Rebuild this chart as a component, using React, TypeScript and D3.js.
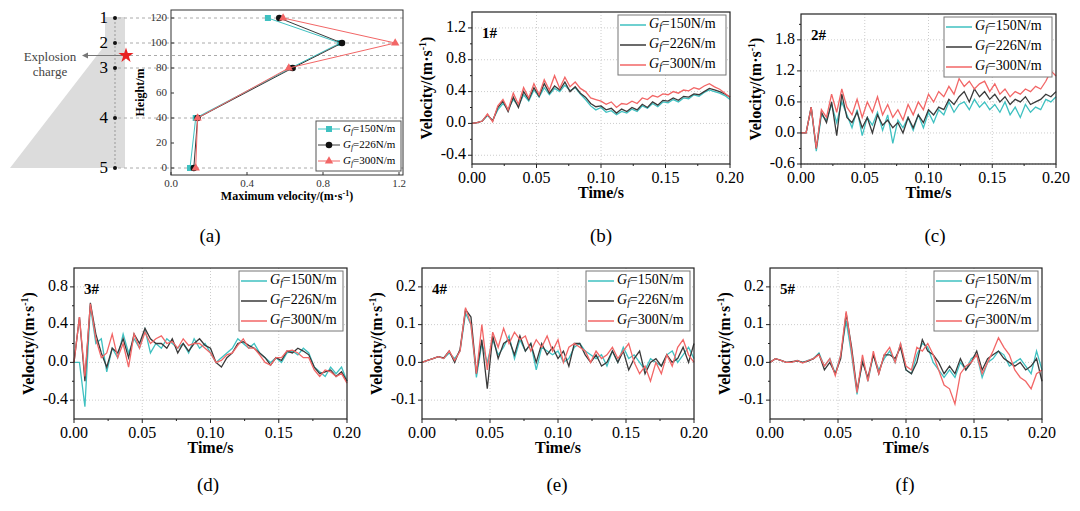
import * as d3 from "d3";
import React from "react";

const FONT = "'Liberation Serif', 'Times New Roman', serif";
const COLORS = ["#3fc1c1", "#3a3a3a", "#f26666"];
const LEGEND = ["=150N/m", "=226N/m", "=300N/m"];

// sample times, 0 to 0.2 s every 0.004 s
const T = d3.range(51).map((i) => +(i * 0.004).toFixed(3));

// panel (a)
const heights = [120, 100, 80, 40, 0];
const maxV150 = [0.51, 0.89, 0.63, 0.13, 0.1];
const maxV226 = [0.57, 0.9, 0.64, 0.14, 0.12];
const maxV300 = [0.59, 1.18, 0.62, 0.14, 0.13];

// 1#
const b150 = [0, 0.01, 0.03, 0.1, 0.04, 0.17, 0.25, 0.18, 0.3, 0.22, 0.36, 0.28, 0.42, 0.33, 0.45, 0.36, 0.44, 0.4, 0.48, 0.41, 0.45, 0.37, 0.3, 0.22, 0.17, 0.2, 0.14, 0.16, 0.11, 0.15, 0.13, 0.18, 0.15, 0.22, 0.19, 0.25, 0.21, 0.27, 0.26, 0.3, 0.27, 0.32, 0.31, 0.36, 0.34, 0.39, 0.42, 0.4, 0.38, 0.35, 0.3];
const b226 = [0, 0.01, 0.03, 0.11, 0.03, 0.2, 0.28, 0.15, 0.33, 0.2, 0.4, 0.3, 0.45, 0.34, 0.5, 0.38, 0.47, 0.42, 0.52, 0.4, 0.46, 0.38, 0.33, 0.25, 0.21, 0.22, 0.17, 0.19, 0.13, 0.18, 0.15, 0.2, 0.17, 0.24, 0.2, 0.27, 0.23, 0.29, 0.28, 0.32, 0.29, 0.34, 0.33, 0.37, 0.36, 0.4, 0.44, 0.42, 0.4, 0.37, 0.33];
const b300 = [0, 0.01, 0.03, 0.12, 0.02, 0.22, 0.3, 0.17, 0.38, 0.24, 0.45, 0.32, 0.5, 0.36, 0.55, 0.42, 0.6, 0.44, 0.58, 0.46, 0.52, 0.44, 0.4, 0.32, 0.3, 0.28, 0.24, 0.27, 0.2, 0.25, 0.24, 0.28, 0.25, 0.32, 0.3, 0.35, 0.33, 0.37, 0.36, 0.4, 0.38, 0.42, 0.41, 0.45, 0.43, 0.47, 0.5, 0.46, 0.43, 0.38, 0.33];

// 2#
const c150 = [0, 0, 0.5, -0.35, 0.35, 0.25, 0.55, 0.2, 0.6, 0.35, 0.1, 0.45, -0.05, 0.3, 0.15, 0.4, 0.05, 0.35, -0.2, 0.25, 0.1, 0.3, 0.05, 0.35, 0.1, 0.4, 0.2, 0.45, 0.35, 0.6, 0.4, 0.55, 0.6, 0.45, 0.65, 0.5, 0.6, 0.45, 0.55, 0.4, 0.6, 0.35, 0.5, 0.3, 0.55, 0.4, 0.5, 0.45, 0.65, 0.6, 0.7];
const c226 = [0, 0, 0.5, -0.3, 0.4, 0.2, 0.6, -0.05, 0.75, 0.3, 0.2, 0.4, 0.1, 0.3, 0.0, 0.35, 0.15, 0.25, 0.1, 0.2, 0.0, 0.3, 0.1, 0.35, 0.2, 0.45, 0.35, 0.5, 0.45, 0.65, 0.55, 0.7, 0.8, 0.6, 0.85, 0.7, 0.8, 0.65, 0.75, 0.6, 0.7, 0.55, 0.65, 0.6, 0.7, 0.55, 0.6, 0.65, 0.75, 0.7, 0.8];
const c300 = [0, 0, 0.5, -0.3, 0.45, 0.3, 0.75, 0.4, 0.85, 0.5, 0.35, 0.65, 0.3, 0.6, 0.4, 0.7, 0.35, 0.55, 0.3, 0.45, 0.25, 0.55, 0.35, 0.6, 0.45, 0.75, 0.6, 0.8, 0.7, 0.9, 0.75, 1.05, 0.9, 1.0, 0.85, 0.95, 1.0, 0.8, 0.95, 0.75, 0.85, 0.7, 0.8, 0.75, 0.85, 0.8, 0.9, 0.85, 1.0, 1.2, 1.1];

// 3#
const d150 = [0, 0, -0.47, 0.6, 0.2, 0.25, -0.1, 0.15, 0.05, 0.3, 0.1, 0.25, 0.15, 0.35, 0.1, 0.2, 0.15, 0.25, 0.2, 0.15, 0.2, 0.1, 0.25, 0.15, 0.2, 0.1, 0.0, 0.05, 0.1, 0.15, 0.25, 0.2, 0.15, 0.2, 0.1, 0.05, 0.0, 0.05, 0.0, 0.1, 0.12, 0.08, 0.15, 0.1, -0.05, -0.1, -0.15, -0.05, -0.12, -0.05, -0.2];
const d226 = [0, 0.48, -0.2, 0.63, 0.3, 0.1, -0.05, 0.15, 0.1, 0.25, 0.05, 0.3, 0.2, 0.36, 0.25, 0.2, 0.2, 0.15, 0.25, 0.1, 0.2, 0.12, 0.2, 0.25, 0.18, 0.15, 0.0, -0.05, 0.05, 0.1, 0.2, 0.22, 0.18, 0.15, 0.1, 0.05, -0.03, 0.05, 0.02, 0.12, 0.1, 0.15, 0.12, 0.08, -0.05, -0.12, -0.1, -0.08, -0.15, -0.1, -0.2];
const d300 = [0, 0.48, -0.15, 0.62, 0.25, 0.05, 0.1, 0.3, 0.05, 0.2, -0.05, 0.3, 0.15, 0.32, 0.2, 0.25, 0.28, 0.2, 0.22, 0.15, 0.25, 0.18, 0.2, 0.2, 0.15, 0.1, 0.0, 0.02, 0.08, 0.1, 0.18, 0.25, 0.15, 0.15, 0.08, 0.0, -0.03, 0.05, 0.05, 0.12, 0.13, 0.1, 0.05, 0.05, -0.08, -0.15, -0.08, -0.1, -0.15, -0.12, -0.22];

// 4#
const e150 = [0, 0.005, 0.01, 0.015, 0.01, 0.025, 0.01, 0.03, 0.13, 0.1, -0.04, 0.05, 0.0, 0.06, 0.02, 0.04, 0.07, 0.01, 0.06, 0.03, 0.05, -0.02, 0.04, 0.03, 0.02, 0.03, 0.0, 0.01, 0.04, 0.05, 0.03, 0.02, 0.01, 0.02, -0.01, 0.03, 0.0, 0.04, 0.01, 0.02, 0.0, -0.02, 0.01, 0.0, -0.01, 0.02, 0.03, 0.0, 0.02, 0.04, 0.01];
const e226 = [0, 0.005, 0.01, 0.015, 0.012, 0.03, 0.0, 0.035, 0.14, 0.12, -0.03, 0.06, -0.07, 0.07, 0.01, 0.05, 0.06, 0.02, 0.07, 0.03, 0.05, 0.0, 0.05, 0.02, 0.04, 0.01, 0.03, -0.01, 0.05, 0.05, 0.02, 0.0, 0.02, -0.01, 0.0, 0.03, 0.0, 0.03, -0.02, 0.01, 0.03, -0.03, 0.0, 0.01, -0.01, 0.02, 0.0, 0.01, 0.04, 0.0, 0.05];
const e300 = [0, 0.005, 0.01, 0.015, 0.01, 0.03, 0.005, 0.03, 0.145, 0.1, -0.03, 0.1, -0.02, 0.08, 0.04, 0.09, 0.05, 0.08, 0.06, 0.07, 0.03, 0.06, 0.04, 0.07, 0.03, 0.06, 0.0, 0.04, 0.05, 0.04, 0.03, 0.0, 0.03, 0.01, 0.02, 0.04, 0.01, 0.03, 0.05, 0.0, -0.03, -0.01, -0.05, 0.0, -0.03, 0.02, -0.01, 0.04, 0.06, 0.02, 0.0];

// 5#
const f150 = [0, 0.01, 0.005, 0.0, 0.0, 0.005, 0.0, 0.005, 0.01, 0.025, -0.01, 0.01, -0.03, 0.02, 0.11, 0.02, -0.085, 0.01, -0.05, 0.02, -0.02, 0.01, 0.03, 0.0, 0.05, -0.02, -0.03, 0.02, 0.05, 0.04, 0.0, -0.02, -0.04, -0.02, -0.04, 0.0, -0.02, 0.01, 0.02, -0.04, 0.0, 0.01, 0.03, 0.02, -0.01, 0.0, 0.01, -0.01, -0.03, 0.03, -0.02];
const f226 = [0, 0.01, 0.005, 0.0, 0.002, 0.004, 0.0, 0.003, 0.01, 0.022, -0.02, 0.0, -0.03, 0.01, 0.13, 0.04, -0.075, 0.0, -0.04, 0.02, -0.03, 0.02, 0.02, 0.01, 0.04, -0.02, -0.03, 0.0, 0.06, 0.03, 0.02, 0.0, -0.03, -0.01, -0.03, 0.01, -0.02, 0.0, 0.03, -0.02, 0.01, 0.02, 0.03, 0.01, 0.0, -0.01, 0.0, -0.02, -0.01, 0.01, -0.05];
const f300 = [0, 0.01, 0.005, 0.0, 0.0, 0.005, -0.002, 0.005, 0.01, 0.02, -0.01, 0.01, -0.035, 0.02, 0.135, 0.03, -0.08, 0.02, -0.05, 0.03, -0.03, 0.02, 0.04, 0.0, 0.05, -0.01, -0.02, 0.04, 0.03, 0.05, 0.02, -0.02, -0.06, -0.07, -0.11, -0.03, -0.01, 0.0, 0.02, -0.03, 0.0, 0.03, 0.065, 0.04, 0.02, -0.02, -0.04, -0.05, -0.07, -0.03, -0.02];

type Frame = { x0: number; x1: number; y0: number; y1: number };

const GLabel = ({ x, y, text, size }: { x: number; y: number; text: string; size: number }) => (
  <text x={x} y={y} fontFamily={FONT} fontSize={size} dominantBaseline="middle">
    <tspan fontStyle="italic">G</tspan>
    <tspan fontStyle="italic" fontSize={size * 0.7} dy={3}>f</tspan>
    <tspan dy={-3}>{text}</tspan>
  </text>
);

const VelTitle = ({ x, y }: { x: number; y: number }) => (
  <text transform={`translate(${x},${y}) rotate(-90)`} textAnchor="middle" fontFamily={FONT} fontWeight="bold" fontSize={16}>
    Velocity/(m·s<tspan fontSize={10} dy={-6}>-1</tspan><tspan dy={6}>)</tspan>
  </text>
);

type TSProps = { f: Frame; yDomain: [number, number]; yTicks: number[]; yFmt: (v: number) => string; series: number[][]; name: string; legendW: number };

const TimePanel = ({ f, yDomain, yTicks, yFmt, series, name, legendW }: TSProps) => {
  const x = d3.scaleLinear().domain([0, 0.2]).range([f.x0, f.x1]);
  const y = d3.scaleLinear().domain(yDomain).range([f.y1, f.y0]);
  const xTicks = [0, 0.05, 0.1, 0.15, 0.2];
  const xMinor = d3.range(0.025, 0.2, 0.05);
  const yStep = yTicks[1] - yTicks[0];
  const yMinor = d3.range(yTicks[0] - yStep / 2, yDomain[1], yStep).filter((v) => v > yDomain[0]);
  const line = d3.line<number>().x((_, i) => x(T[i])).y((v) => y(v));
  const lx = f.x1 - legendW - 4;
  return (
    <g>
      {xTicks.slice(1, -1).map((t) => (
        <line key={"gx" + t} x1={x(t)} x2={x(t)} y1={f.y0} y2={f.y1} stroke="#ccc" strokeDasharray="1,2" />
      ))}
      {yTicks.map((t) => (
        <line key={"gy" + t} x1={f.x0} x2={f.x1} y1={y(t)} y2={y(t)} stroke="#ccc" strokeDasharray="1,2" />
      ))}
      {series.map((s, i) => (
        <path key={i} d={line(s) || ""} fill="none" stroke={COLORS[i]} strokeWidth={1.3} />
      ))}
      <rect x={f.x0} y={f.y0} width={f.x1 - f.x0} height={f.y1 - f.y0} fill="none" stroke="#222" strokeWidth={1.2} />
      {xTicks.map((t) => (
        <g key={"xt" + t}>
          <line x1={x(t)} x2={x(t)} y1={f.y1} y2={f.y1 + 4} stroke="#222" />
          <text x={x(t)} y={f.y1 + 19} textAnchor="middle" fontFamily={FONT} fontSize={16}>{t.toFixed(2)}</text>
        </g>
      ))}
      {xMinor.map((t) => (
        <line key={"xm" + t} x1={x(t)} x2={x(t)} y1={f.y1} y2={f.y1 + 2} stroke="#222" />
      ))}
      {yTicks.map((t) => (
        <g key={"yt" + t}>
          <line x1={f.x0 - 4} x2={f.x0} y1={y(t)} y2={y(t)} stroke="#222" />
          <text x={f.x0 - 6} y={y(t)} textAnchor="end" dominantBaseline="middle" fontFamily={FONT} fontSize={16}>{yFmt(t)}</text>
        </g>
      ))}
      {yMinor.map((t) => (
        <line key={"ym" + t} x1={f.x0 - 2} x2={f.x0} y1={y(t)} y2={y(t)} stroke="#222" />
      ))}
      <text x={(f.x0 + f.x1) / 2} y={f.y1 + 34} textAnchor="middle" fontFamily={FONT} fontWeight="bold" fontSize={16}>Time/s</text>
      <VelTitle x={f.x0 - 40} y={(f.y0 + f.y1) / 2} />
      <text x={f.x0 + 10} y={f.y0 + 26} fontFamily={FONT} fontWeight="bold" fontSize={15}>{name}</text>
      <rect x={lx} y={f.y0 + 3} width={legendW} height={60} fill="white" stroke="#777" />
      {LEGEND.map((l, i) => (
        <g key={l}>
          <line x1={lx + 2} x2={lx + 28} y1={f.y0 + 13 + i * 20} y2={f.y0 + 13 + i * 20} stroke={COLORS[i]} strokeWidth={1.5} />
          <GLabel x={lx + 31} y={f.y0 + 13 + i * 20} text={l} size={14} />
        </g>
      ))}
    </g>
  );
};

const PanelA = () => {
  const f = { x0: 171, x1: 403, y0: 10, y1: 175 };
  const x = d3.scaleLinear().domain([0, 1.2]).range([171, 399]);
  const y = d3.scaleLinear().domain([0, 120]).range([168, 18]);
  const series = [maxV150, maxV226, maxV300];
  const line = d3.line<number>().x((v) => x(v)).y((_, i) => y(heights[i]));
  const marker = (i: number, cx: number, cy: number) =>
    i === 0 ? <rect x={cx - 3} y={cy - 3} width={6} height={6} fill={COLORS[0]} />
      : i === 1 ? <circle cx={cx} cy={cy} r={3.3} fill="#111" />
        : <path d={d3.symbol(d3.symbolTriangle, 30)() || ""} transform={`translate(${cx},${cy})`} fill={COLORS[2]} />;
  return (
    <g>
      <path d="M105,17 L125,17 L125,168 L10,168 L105,45 Z" fill="#dcdcdc" />
      <line x1={115} x2={115} y1={18} y2={168} stroke="#999" strokeDasharray="2,2" />
      {[120, 100, 90, 80, 40, 0].map((h) => (
        <line key={h} x1={118} x2={f.x1} y1={y(h)} y2={y(h)} stroke="#aaa" strokeDasharray="3,3" />
      ))}
      {heights.map((h, i) => (
        <g key={h}>
          <circle cx={115} cy={y(h)} r={2} fill="#111" />
          <text x={108} y={y(h) + 1} textAnchor="end" dominantBaseline="middle" fontFamily={FONT} fontSize={17}>{i + 1}</text>
        </g>
      ))}
      <line x1={122} x2={86} y1={y(90)} y2={y(90)} stroke="#777" strokeWidth={1.2} />
      <path d={`M82,${y(90)} l6,-3 l0,6 Z`} fill="#777" />
      <path d={d3.symbol(d3.symbolStar, 70)() || ""} transform={`translate(126,${y(90)})`} fill="#e82020" />
      <text x={50} y={y(90) + 5} textAnchor="middle" fontFamily={FONT} fontSize={13} fill="#444">Explosion</text>
      <text x={50} y={y(90) + 20} textAnchor="middle" fontFamily={FONT} fontSize={13} fill="#444">charge</text>
      {series.map((s, i) => (
        <g key={i}>
          <path d={line(s) || ""} fill="none" stroke={COLORS[i]} strokeWidth={1} />
          {s.map((v, j) => <g key={j}>{marker(i, x(v), y(heights[j]))}</g>)}
        </g>
      ))}
      <rect x={f.x0} y={f.y0} width={f.x1 - f.x0} height={f.y1 - f.y0} fill="none" stroke="#333" />
      {[0, 0.4, 0.8, 1.2].map((t) => (
        <g key={t}>
          <line x1={x(t)} x2={x(t)} y1={f.y1} y2={f.y1 - 3} stroke="#333" />
          <text x={x(t)} y={f.y1 + 12} textAnchor="middle" fontFamily={FONT} fontSize={11} fill="#333">{t.toFixed(1)}</text>
        </g>
      ))}
      {d3.range(0, 121, 20).map((t) => (
        <g key={t}>
          <line x1={f.x0} x2={f.x0 + 3} y1={y(t)} y2={y(t)} stroke="#333" />
          <text x={f.x0 - 4} y={y(t)} textAnchor="end" dominantBaseline="middle" fontFamily={FONT} fontSize={11} fill="#333">{t}</text>
        </g>
      ))}
      <text x={(f.x0 + f.x1) / 2} y={f.y1 + 25} textAnchor="middle" fontFamily={FONT} fontWeight="bold" fontSize={12}>
        Maximum velocity/(m·s<tspan fontSize={8} dy={-4}>-1</tspan><tspan dy={4}>)</tspan>
      </text>
      <text transform={`translate(${f.x0 - 27},${(f.y0 + f.y1) / 2}) rotate(-90)`} textAnchor="middle" fontFamily={FONT} fontWeight="bold" fontSize={12}>Height/m</text>
      <rect x={316} y={121} width={85} height={50} fill="white" stroke="#555" />
      {LEGEND.map((l, i) => (
        <g key={l}>
          <line x1={318} x2={340} y1={129 + i * 16} y2={129 + i * 16} stroke={COLORS[i]} />
          {marker(i, 329, 129 + i * 16)}
          <GLabel x={343} y={129 + i * 16} text={l} size={11} />
        </g>
      ))}
    </g>
  );
};

const fmt1 = (v: number) => v.toFixed(1);

export default function App() {
  const caps: [string, number, number][] = [["(a)", 210, 242], ["(b)", 601, 242], ["(c)", 935, 242], ["(d)", 208, 491], ["(e)", 557, 491], ["(f)", 905, 491]];
  return (
    <svg width={1080} height={511} style={{ position: "absolute", left: 0, top: 0, background: "white" }}>
      <PanelA />
      <TimePanel f={{ x0: 472, x1: 730, y0: 12, y1: 164 }} yDomain={[-0.51, 1.4]} yTicks={[-0.4, 0, 0.4, 0.8, 1.2]} yFmt={fmt1} series={[b150, b226, b300]} name="1#" legendW={108} />
      <TimePanel f={{ x0: 801, x1: 1056, y0: 14, y1: 164 }} yDomain={[-0.6, 2.3]} yTicks={[-0.6, 0, 0.6, 1.2, 1.8]} yFmt={fmt1} series={[c150, c226, c300]} name="2#" legendW={108} />
      <TimePanel f={{ x0: 74, x1: 347, y0: 268, y1: 419 }} yDomain={[-0.6, 1.0]} yTicks={[-0.4, 0, 0.4, 0.8]} yFmt={fmt1} series={[d150, d226, d300]} name="3#" legendW={104} />
      <TimePanel f={{ x0: 422, x1: 694, y0: 268, y1: 419 }} yDomain={[-0.15, 0.25]} yTicks={[-0.1, 0, 0.1, 0.2]} yFmt={fmt1} series={[e150, e226, e300]} name="4#" legendW={104} />
      <TimePanel f={{ x0: 770, x1: 1042, y0: 268, y1: 419 }} yDomain={[-0.15, 0.25]} yTicks={[-0.1, 0, 0.1, 0.2]} yFmt={fmt1} series={[f150, f226, f300]} name="5#" legendW={104} />
      {caps.map(([t, cx, cy]) => (
        <text key={t} x={cx} y={cy} textAnchor="middle" fontFamily={FONT} fontSize={19}>{t}</text>
      ))}
    </svg>
  );
}
